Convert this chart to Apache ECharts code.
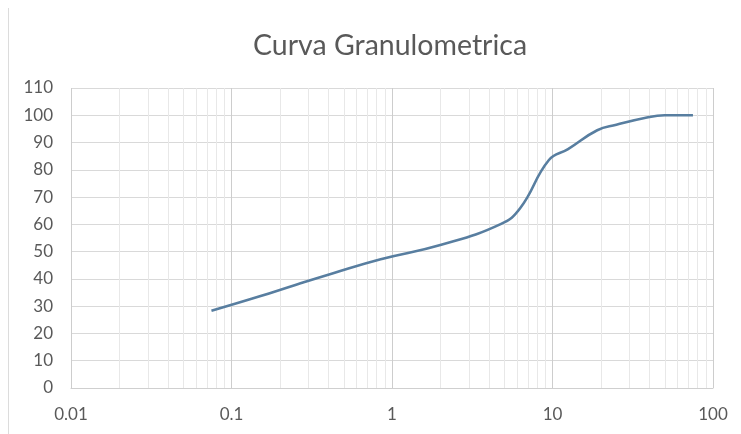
<!DOCTYPE html>
<html>
<head>
<meta charset="utf-8">
<script src="https://cdn.jsdelivr.net/npm/echarts@6/dist/echarts.min.js"></script>
<style>
  html, body { margin: 0; padding: 0; background: #ffffff; }
  #chart { width: 741px; height: 434px; }
</style>
</head>
<body>
<div id="chart"></div>
<script>
// Sieve opening (mm) and cumulative percent passing
const sieveSizes = [0.075, 0.15, 0.25, 0.425, 0.85, 2.0, 4.75, 6.3, 9.5, 12.5, 19, 25, 37.5, 50, 75];
const percentPassing = [28.3, 33.6, 37.8, 42.0, 47.2, 52.4, 60.1, 66.0, 83.6, 87.6, 94.5, 96.5, 99.0, 100, 100];

// Axis ranges and tick labels
const xMin = 0.01, xMax = 100;
const xTickLabels = ['0.01', '0.1', '1', '10', '100'];
const yMin = 0, yMax = 110, yStep = 10;

// Intermediate log grid lines (2..9 within each decade)
const decades = [0.01, 0.1, 1, 10];
const decadeMultipliers = [2, 3, 4, 5, 6, 7, 8, 9];
const minorGridValues = [];
decades.forEach(function (d) {
  decadeMultipliers.forEach(function (m) {
    minorGridValues.push(+(d * m).toPrecision(3));
  });
});

const chart = echarts.init(document.getElementById('chart'), null, { renderer: 'canvas' });

const labelFont = { color: '#595959', fontSize: 17, fontFamily: 'Lato, "Open Sans", sans-serif' };

chart.setOption({
  animation: false,
  backgroundColor: '#ffffff',
  title: {
    text: 'Curva Granulometrica',
    left: 253,
    top: 31,
    padding: 0,
    textStyle: { color: '#595959', fontSize: 28.5, fontWeight: 'normal', fontFamily: 'Lato, "Open Sans", sans-serif' }
  },
  grid: { left: 71, right: 28, top: 88, bottom: 46, containLabel: false },
  xAxis: {
    type: 'log',
    logBase: 10,
    min: xMin,
    max: xMax,
    axisLine: { show: true, lineStyle: { color: '#cfcfcf', width: 1 } },
    axisTick: { show: false },
    axisLabel: Object.assign({
      margin: 18,
      formatter: function (v) {
        const s = String(+v.toPrecision(3));
        return xTickLabels.indexOf(s) >= 0 ? s : '';
      }
    }, labelFont),
    splitLine: { show: true, lineStyle: { color: '#cdcdcd', width: 1 } }
  },
  yAxis: {
    type: 'value',
    min: yMin,
    max: yMax,
    interval: yStep,
    axisLine: { show: false },
    axisTick: { show: false },
    axisLabel: Object.assign({ margin: 18 }, labelFont),
    splitLine: { show: true, lineStyle: { color: '#d9d9d9', width: 1 } }
  },
  graphic: [{
    type: 'line',
    shape: { x1: 8.5, y1: 8, x2: 8.5, y2: 434 },
    style: { stroke: '#dcdcdc', lineWidth: 1 },
    silent: true
  }],
  series: [
    {
      // light vertical lines at 2..9 of each decade
      name: 'minor-grid',
      type: 'custom',
      z: 1,
      silent: true,
      data: minorGridValues.map(function (v) { return [v, yMin]; }),
      renderItem: function (params, api) {
        const bottom = api.coord([api.value(0), yMin]);
        const top = api.coord([api.value(0), yMax]);
        const x = Math.round(bottom[0]) + 0.5;
        return {
          type: 'line',
          shape: { x1: x, y1: top[1], x2: x, y2: bottom[1] },
          style: { stroke: '#e8e8e8', lineWidth: 1 }
        };
      }
    },
    {
      name: 'Curva',
      type: 'line',
      z: 3,
      smooth: 0.45,
      showSymbol: false,
      symbol: 'none',
      lineStyle: { color: '#587ea0', width: 2.6 },
      data: sieveSizes.map(function (s, i) { return [s, percentPassing[i]]; })
    }
  ]
});
</script>
</body>
</html>
